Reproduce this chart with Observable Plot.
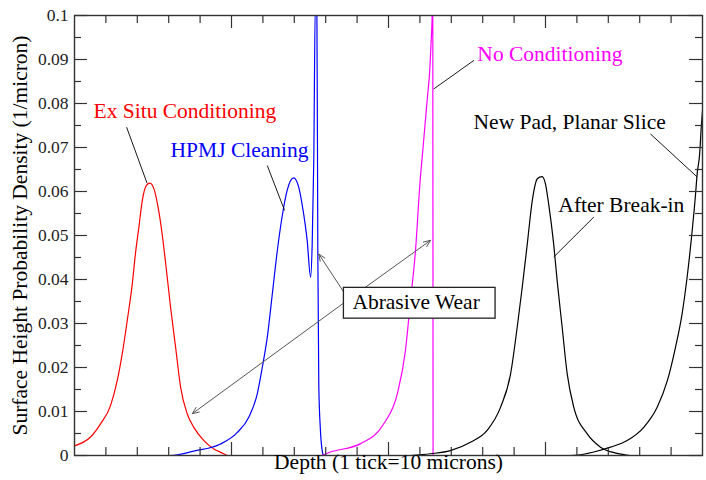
<!DOCTYPE html>
<html><head><meta charset="utf-8">
<script src="https://cdn.jsdelivr.net/npm/d3@7"></script>
<script src="https://cdn.jsdelivr.net/npm/@observablehq/plot@0.6"></script>
<style>body{margin:0;background:#fff;}</style>
</head><body><div id="chart"></div>
<script>
// ---- data (depth in microns, density in 1/micron) ----
const redDepth   = [0, 5.1, 8.3, 11.5, 13.6, 15.2, 16.8, 18.4, 19.4, 20.5, 21.6, 22.9, 24.0, 25.3, 26.8, 27.9, 29.3, 30.6, 32.2, 33.8, 35.9, 38.0, 41.2, 44.4, 47.5, 48.6];
const redDensity = [0.0022, 0.0042, 0.0072, 0.0114, 0.017, 0.0231, 0.0307, 0.039, 0.0458, 0.0519, 0.058, 0.0614, 0.0619, 0.0606, 0.0557, 0.0504, 0.042, 0.0337, 0.0246, 0.0155, 0.0095, 0.0064, 0.0034, 0.0015, 0.0004, 0];

const blueDepth   = [18.4, 30.6, 38.0, 46.5, 51.8, 55.5, 58.2, 59.8, 61.4, 63.0, 64.6, 66.1, 67.7, 69.8, 71.4, 72.8, 74.1, 75.2, 75.7, 76.2, 76.7, 77.2, 77.5, 77.8, 78.3, 78.9, 79.3];
const blueDensity = [0, 0, 0.001, 0.0026, 0.0052, 0.0087, 0.014, 0.020, 0.0269, 0.0367, 0.0466, 0.0542, 0.0602, 0.0631, 0.061, 0.0557, 0.0489, 0.0405, 0.0481, 0.067, 0.103, 0.1, 0.045, 0.016, 0.006, 0.001, 0];

const magDepth   = [61.8, 78.3, 81.5, 91.1, 98.5, 102.8, 105.4, 107.0, 108.6, 110.0, 111.2, 112.3, 113.2, 113.6, 113.9, 114.1, 114.2];
const magDensity = [0, 0, 0.0008, 0.0027, 0.0072, 0.014, 0.0239, 0.0352, 0.0466, 0.0617, 0.0716, 0.0807, 0.0883, 0.0943, 0.1, 0.11, 0];

const breakDepth   = [107.0, 113.4, 119.7, 126.1, 131.4, 135.7, 138.9, 141.0, 142.6, 144.2, 145.8, 147.4, 148.9, 150.0, 151.0, 152.6, 153.7, 155.3, 156.9, 159.0, 163.3, 167.5, 172.8, 177.1];
const breakDensity = [0, 0.0004, 0.0011, 0.003, 0.0057, 0.011, 0.0186, 0.0292, 0.0383, 0.0481, 0.058, 0.0629, 0.0634, 0.0617, 0.0572, 0.0481, 0.0398, 0.0292, 0.0186, 0.011, 0.0049, 0.0019, 0.0005, 0];

const newPadDepth   = [158, 160.1, 165.4, 170.7, 176.0, 181.3, 185.6, 188.8, 191.4, 193.5, 195.1, 196.5, 197.8, 198.3, 199.1, 199.6, 200];
const newPadDensity = [0, 0.0001, 0.0008, 0.0019, 0.0034, 0.0064, 0.011, 0.017, 0.0246, 0.0322, 0.0405, 0.0496, 0.0595, 0.064, 0.0686, 0.0746, 0.0784];

// ---- ticks ----
const yMajor = [0, 0.01, 0.02, 0.03, 0.04, 0.05, 0.06, 0.07, 0.08, 0.09, 0.1];
const yTickLabels = ["0", "0.01", "0.02", "0.03", "0.04", "0.05", "0.06", "0.07", "0.08", "0.09", "0.1"];
const yMinor = [0.005, 0.015, 0.025, 0.035, 0.045, 0.055, 0.065, 0.075, 0.085, 0.095];
const xMajor = [50, 100, 150];
const xMinor = [10, 20, 30, 40, 60, 70, 80, 90, 110, 120, 130, 140, 160, 170, 180, 190];

const xTitle = "Depth (1 tick=10 microns)";
const yTitle = "Surface Height Probability Density (1/micron)";

// ---- annotations ----
const labelText    = ["Ex Situ Conditioning", "HPMJ Cleaning", "No Conditioning", "New Pad, Planar Slice", "After Break-in"];
const labelDepth   = [6.05, 30.6, 128.3, 127.1, 154.1];
const labelDensity = [0.0782, 0.0693, 0.0912, 0.0758, 0.0568];
const labelColor   = ["#ff0000", "#0000ff", "#ff00ff", "#000000", "#000000"];

const leaderX1 = [16.6, 61.4, 127.2, 183.4, 165.4];
const leaderY1 = [0.0746, 0.0659, 0.0898, 0.0731, 0.0542];
const leaderX2 = [23.1, 66.9, 114.4, 198.3, 152.6];
const leaderY2 = [0.0619, 0.0557, 0.0833, 0.0633, 0.0451];

const boxText = "Abrasive Wear";
const boxX = [85.8, 134.1];
const boxY = [0.0311, 0.0381];
const boxTextDepth = 88.5, boxTextDensity = 0.0349;

const arrowX1 = [85.8, 88.5, 88.5];
const arrowY1 = [0.0371, 0.0361, 0.0361];
const arrowX2 = [77.8, 113.4, 37.5];
const arrowY2 = [0.0458, 0.0489, 0.0095];

// ---- build tables ----
const series = (xs, ys) => xs.map((x, i) => ({depth: x, density: ys[i]}));
const curves = [
  {data: series(redDepth, redDensity), color: "#ff0000"},
  {data: series(blueDepth, blueDensity), color: "#0000ff"},
  {data: series(magDepth, magDensity), color: "#ff00ff"},
  {data: series(breakDepth, breakDensity), color: "#000000"},
  {data: series(newPadDepth, newPadDensity), color: "#000000"}
];
const labels = labelText.map((t, i) => ({t, x: labelDepth[i], y: labelDensity[i], c: labelColor[i]}));
const leaders = leaderX1.map((x, i) => ({x1: x, y1: leaderY1[i], x2: leaderX2[i], y2: leaderY2[i]}));
const arrows = arrowX1.map((x, i) => ({x1: x, y1: arrowY1[i], x2: arrowX2[i], y2: arrowY2[i]}));

const W = 706, H = 480, mL = 74, mR = 4, mT = 15, mB = 25;
const innerW = W - mL - mR, innerH = H - mT - mB;
const axisColor = "#333";
// inward tick marks: tick marks spanning the frame, inset to the tick length
const ticksY = (values, side, len) => Plot.tickY(values, {
  y: d => d, stroke: axisColor, strokeWidth: 1.2,
  [side === "left" ? "insetRight" : "insetLeft"]: innerW - len
});
const ticksX = (values, side, len) => Plot.tickX(values, {
  x: d => d, stroke: axisColor, strokeWidth: 1.2,
  [side === "bottom" ? "insetTop" : "insetBottom"]: innerH - len
});

const chart = Plot.plot({
  width: W, height: H,
  marginLeft: mL, marginRight: mR, marginTop: mT, marginBottom: mB,
  style: {fontFamily: "'Liberation Serif', 'DejaVu Serif', serif", background: "#fff"},
  x: {domain: [0, 200], label: null, axis: null},
  y: {domain: [0, 0.1], label: null},
  marks: [
    ...curves.map(c => Plot.line(c.data, {x: "depth", y: "density", stroke: c.color, strokeWidth: 1.2, curve: "monotone-x", clip: true})),
    Plot.link(leaders, {x1: "x1", y1: "y1", x2: "x2", y2: "y2", stroke: "#000", strokeWidth: 0.9}),
    Plot.arrow(arrows, {x1: "x1", y1: "y1", x2: "x2", y2: "y2", stroke: "#555", strokeWidth: 1, headLength: 11, headAngle: 45}),
    Plot.rect([0], {x1: () => boxX[0], x2: () => boxX[1], y1: () => boxY[0], y2: () => boxY[1], fill: "#fff", stroke: "#222", strokeWidth: 1.3}),
    Plot.text([boxText], {x: () => boxTextDepth, y: () => boxTextDensity, text: d => d, textAnchor: "start", fontSize: 21.5, fill: "#000"}),
    Plot.text(labels, {x: "x", y: "y", text: "t", fill: "c", textAnchor: "start", fontSize: 21.5}),
    // axes
    Plot.axisY(yMajor, {anchor: "left", tickSize: 0, tickPadding: 6, tickFormat: d => yTickLabels[yMajor.indexOf(d)], fontSize: 17.5, fill: "#222", label: null}),
    ticksY(yMajor, "left", 13), ticksY(yMinor, "left", 7),
    ticksY(yMajor, "right", 13), ticksY(yMinor, "right", 7),
    ticksX(xMajor, "bottom", 13), ticksX(xMinor, "bottom", 8),
    ticksX(xMajor, "top", 13), ticksX(xMinor, "top", 8),
    Plot.frame({stroke: axisColor, strokeWidth: 1.4}),
    Plot.text([xTitle], {text: d => d, frameAnchor: "bottom", dy: 13, fontSize: 21.5, fill: "#000"}),
    Plot.text([yTitle], {text: d => d, frameAnchor: "left", textAnchor: "middle", rotate: -90, dx: -54, fontSize: 21.5, fill: "#000"})
  ]
});
document.getElementById("chart").append(chart);
</script></body></html>
